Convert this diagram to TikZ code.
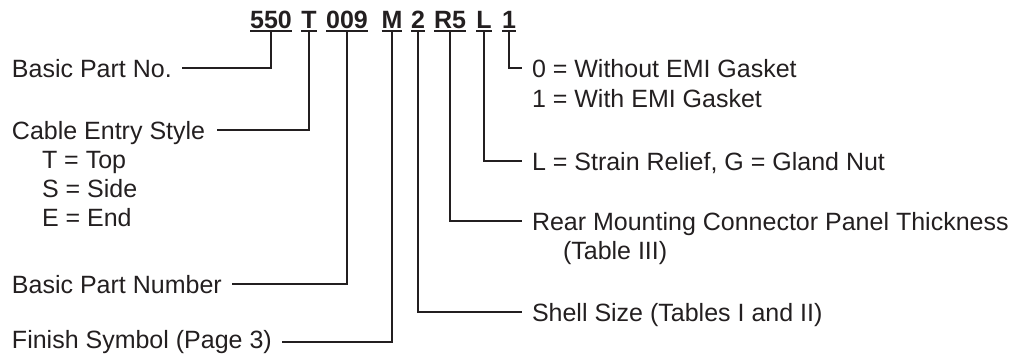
\documentclass[tikz,border=0pt]{standalone}
\usepackage{fontspec}
\setmainfont{Liberation Sans}
\definecolor{ink}{HTML}{231F20}
\begin{document}
\begin{tikzpicture}[x=1pt,y=-1pt,
  every node/.style={inner sep=0pt,outer sep=0pt,text=ink},
  code/.style={anchor=base,font=\fontsize{25}{30}\selectfont\bfseries},
  lbl/.style={anchor=base west,font=\fontsize{25}{30}\selectfont,text height=17.9pt,text depth=0pt},
  conn/.style={draw=ink,line width=1.9pt},
  uline/.style={draw=ink,line width=1.5pt}]
\useasboundingbox (0,0) rectangle (1013,354);
% header codes
\node[code] (c550) at (271,28) {550};
\node[code] (cT)   at (309,28) {T};
\node[code] (c009) at (347,28) {009};
\node[code] (cM)   at (392,28) {M};
\node[code] (c2)   at (418,28) {2};
\node[code] (cR5)  at (450,28) {R5};
\node[code] (cL)   at (484,28) {L};
\node[code] (c1)   at (509,28) {1};
\foreach \n in {c550,cT,c009,cM,c2,cR5,cL,c1}
  \draw[uline] ([yshift=-3pt]\n.base west) -- ([yshift=-3pt]\n.base east);
% left labels
\node[lbl] (l550) at (12,77)  {Basic Part No.};
\node[lbl] (lT)   at (12,139) {Cable Entry Style};
\node[lbl] (lT1)  at (42,168) {T = Top};
\node[lbl] (lT2)  at (42,197) {S = Side};
\node[lbl] (lT3)  at (42,226) {E = End};
\node[lbl] (l009) at (12,293) {Basic Part Number};
\node[lbl] (lM)   at (12,348.5) {Finish Symbol (Page 3)};
% right labels
\node[lbl] (r1)   at (532,77)  {0 = Without EMI Gasket};
\node[lbl] (r1b)  at (532,107) {1 = With EMI Gasket};
\node[lbl] (rL)   at (532,170) {L = Strain Relief, G = Gland Nut};
\node[lbl] (rR5)  at (532,230) {Rear Mounting Connector Panel Thickness};
\node[lbl] (rR5b) at (563,259) {(Table III)};
\node[lbl] (r2)   at (532,321) {Shell Size (Tables I and II)};
% connectors
\draw[conn] ([yshift=-3pt]c550.base) |- ([xshift=10pt]l550.east);
\draw[conn] ([yshift=-3pt]cT.base)   |- ([xshift=12pt]lT.east);
\draw[conn] ([yshift=-3pt]c009.base) |- ([xshift=10pt]l009.east);
\draw[conn] ([yshift=-3pt]cM.base)   |- ([xshift=10pt,yshift=-2pt]lM.east);
\draw[conn] ([yshift=-3pt]c1.base)   |- ([xshift=-10pt]r1.west);
\draw[conn] ([yshift=-3pt]cL.base)   |- ([xshift=-10pt]rL.west);
\draw[conn] ([yshift=-3pt]cR5.base)  |- ([xshift=-10pt]rR5.west);
\draw[conn] ([yshift=-3pt]c2.base)   |- ([xshift=-10pt]r2.west);
\end{tikzpicture}
\end{document}
